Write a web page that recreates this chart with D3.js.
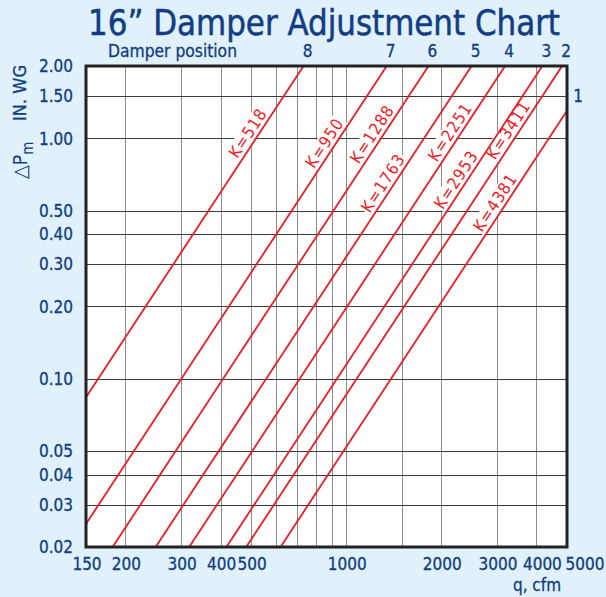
<!DOCTYPE html>
<meta charset="utf-8">
<style>
body { margin: 0; background: #e0f1fb; }
svg { display: block; }
text { font-family: "DejaVu Sans Condensed", "DejaVu Sans", sans-serif; fill: #123d82; }
.tick-label { stroke: #123d82; stroke-width: 0.3px; }
.grid-v line { stroke: #8c8c8c; stroke-width: 1px; }
.grid-h line { stroke: #3c3c3c; stroke-width: 1px; }
.kline { fill: none; stroke: #ec1c24; stroke-width: 1.8px; }
.klabel { fill: #ec1c24; font-size: 16.5px; letter-spacing: 1px; }
</style>
<body>
<svg width="606" height="597"></svg>
<script src="https://d3js.org/d3.v7.min.js"></script>
<script>
// damper K factors, dP = (q/K)^2
var kValues = [518, 950, 1288, 1763, 2251, 2953, 3411, 4381];
// where along each line (in. WG) the K label sits
var kLabelAt = [1.0, 0.91, 0.99, 0.62, 1.01, 0.64, 1.03, 0.515];
var damperPos = ["8", "7", "6", "5", "4", "3", "2", "1"];

var xTicks = [150, 200, 300, 400, 500, 1000, 2000, 3000, 4000, 5000];
var xGrid = [200, 300, 400, 500, 600, 700, 800, 900, 1000, 1500, 2000, 3000, 4000];
var yTicks = [0.02, 0.03, 0.04, 0.05, 0.10, 0.20, 0.30, 0.40, 0.50, 1.00, 1.50, 2.00];

var svg = d3.select("svg"),
    plotL = 86, plotR = 567, plotT = 66, plotB = 547;

var x = d3.scaleLog().domain([150, 5000]).range([plotL, plotR]),
    y = d3.scaleLog().domain([0.02, 2]).range([plotB, plotT]);

svg.append("rect")
    .attr("x", plotL).attr("y", plotT)
    .attr("width", plotR - plotL).attr("height", plotB - plotT)
    .attr("fill", "#fff");

svg.append("g").attr("class", "grid-v")
  .selectAll("line").data(xGrid).enter().append("line")
    .attr("x1", function(d) { return Math.round(x(d)) + 0.5; })
    .attr("x2", function(d) { return Math.round(x(d)) + 0.5; })
    .attr("y1", plotT).attr("y2", plotB);

svg.append("g").attr("class", "grid-h")
  .selectAll("line").data(yTicks).enter().append("line")
    .attr("y1", function(d) { return Math.round(y(d)) + 0.5; })
    .attr("y2", function(d) { return Math.round(y(d)) + 0.5; })
    .attr("x1", plotL).attr("x2", plotR);

function qAt(k, dp) { return k * Math.sqrt(dp); }

var lines = kValues.map(function(k, i) {
  var q0 = Math.max(150, qAt(k, 0.02)), q1 = Math.min(5000, qAt(k, 2));
  return {k: k, i: i, pts: [[q0, (q0 / k) * (q0 / k)], [q1, (q1 / k) * (q1 / k)]]};
});

var line = d3.line()
    .x(function(d) { return x(d[0]); })
    .y(function(d) { return y(d[1]); });

// label groups (white box behind text, cuts the grid like the original)
var lab = svg.append("g").selectAll("g").data(lines).enter().append("g")
    .attr("transform", function(d) {
      var p = d.pts, ang = Math.atan2(y(p[1][1]) - y(p[0][1]), x(p[1][0]) - x(p[0][0]));
      var dp = kLabelAt[d.i], q = qAt(d.k, dp);
      var nx = Math.sin(ang) * 10, ny = -Math.cos(ang) * 10;
      return "translate(" + (x(q) + nx) + "," + (y(dp) + ny) + ") rotate(" + (ang * 180 / Math.PI) + ")";
    });

svg.append("g").selectAll("path").data(lines).enter().append("path")
    .attr("class", "kline")
    .attr("d", function(d) { return line(d.pts); });

lab.append("text")
    .attr("class", "klabel")
    .attr("text-anchor", "middle")
    .attr("dy", "0.36em")
    .text(function(d) { return "K=" + d.k; });

lab.each(function() {
  var g = d3.select(this), b = g.select("text").node().getBBox();
  g.insert("rect", "text")
      .attr("x", b.x - 1).attr("y", b.y + 1)
      .attr("width", b.width + 2).attr("height", b.height - 2)
      .attr("fill", "#fff");
});
// redraw lines over boxes
svg.selectAll(".kline").raise();
lab.selectAll("text").raise();

svg.append("rect")
    .attr("x", plotL).attr("y", plotT)
    .attr("width", plotR - plotL).attr("height", plotB - plotT)
    .attr("fill", "none").attr("stroke", "#222").attr("stroke-width", 3);

// damper positions
svg.append("g").selectAll("text").data(lines.slice(0, 7)).enter().append("text")
    .attr("class", "tick-label")
    .attr("x", function(d) { return x(d.pts[1][0]) + 4; })
    .attr("y", plotT - 9)
    .attr("text-anchor", "middle")
    .style("font-size", "17px")
    .text(function(d) { return damperPos[d.i]; });

svg.append("text")
    .attr("class", "tick-label")
    .attr("x", plotR + 11)
    .attr("y", y(1.5))
    .attr("dy", "0.36em")
    .attr("text-anchor", "middle")
    .style("font-size", "17px")
    .text(damperPos[7]);

svg.append("text")
    .attr("class", "tick-label")
    .attr("x", 108).attr("y", plotT - 9)
    .style("font-size", "17px")
    .attr("textLength", 129).attr("lengthAdjust", "spacingAndGlyphs")
    .text("Damper position");

// axis labels
svg.append("g").selectAll("text").data(yTicks).enter().append("text")
    .attr("class", "tick-label")
    .attr("x", 73)
    .attr("y", function(d) { return y(d); })
    .attr("dy", "0.36em")
    .attr("text-anchor", "end")
    .style("font-size", "17px")
    .text(function(d) { return d3.format(".2f")(d); });

var xNudge = {4000: 5, 5000: 17};
svg.append("g").selectAll("text").data(xTicks).enter().append("text")
    .attr("class", "tick-label")
    .attr("x", function(d) { return x(d) + 1 + (xNudge[d] || 0); })
    .attr("y", plotB + 23)
    .attr("text-anchor", "middle")
    .style("font-size", "17px")
    .text(function(d) { return d; });

svg.append("text")
    .attr("class", "tick-label")
    .attr("x", 537).attr("y", 591)
    .attr("text-anchor", "middle")
    .style("font-size", "17px")
    .text("q, cfm");

// y axis title: triangle P sub m, then units
var yt = svg.append("text")
    .attr("transform", "translate(27,179) rotate(-90)");
yt.append("tspan").style("font-size", "20px").text("\u25B3");
yt.append("tspan").style("font-size", "19px").text("P");
yt.append("tspan").attr("dy", 6).style("font-size", "15px").text("m");

svg.append("text")
    .attr("class", "tick-label")
    .attr("transform", "translate(26,65) rotate(-90)")
    .attr("text-anchor", "end")
    .style("font-size", "17px")
    .attr("textLength", 56).attr("lengthAdjust", "spacingAndGlyphs")
    .text("IN. WG");

svg.append("text")
    .attr("x", 88).attr("y", 35)
    .style("font-size", "35px")
    .style("stroke", "#123d82").style("stroke-width", "0.5px")
    .attr("textLength", 472).attr("lengthAdjust", "spacingAndGlyphs")
    .text("16\u201D Damper Adjustment Chart");
</script>
</body>
